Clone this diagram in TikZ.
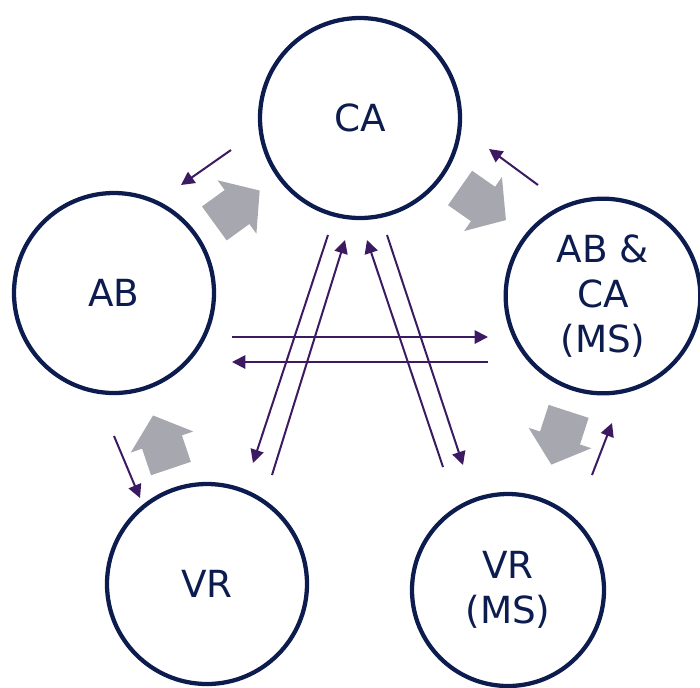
\documentclass[tikz,border=0pt]{standalone}
\usepackage{fontspec}
\setmainfont{DejaVu Sans}
\usetikzlibrary{arrows.meta}
\definecolor{navy}{HTML}{0D1C4F}
\definecolor{purp}{HTML}{3C1A62}
\definecolor{blockgray}{HTML}{A7A7AF}
\begin{document}
\begin{tikzpicture}[x=0.75pt,y=-0.75pt,
  circ/.style={circle,draw=navy,line width=3.2pt,minimum size=150pt,inner sep=0pt,
    text=navy,font=\fontsize{28}{33.5}\selectfont,align=center},
  link/.style={draw=purp,line width=1.5pt,-{Triangle[length=10pt,width=10pt]}},
  blockarrow/.pic={\fill[blockgray] (-28,-21) -- (0,-21) -- (0,-33) -- (28,0) -- (0,33) -- (0,21) -- (-28,21) -- cycle;}]
\useasboundingbox (0,0) rectangle (700,687);
% circles
\node[circ] (ca) at (360,118) {CA};
\node[circ] (ab) at (114,293) {AB};
\node[circ,minimum size=146pt] (abca) at (603,296) {AB \&\\CA\\(MS)};
\node[circ] (vr) at (207,584) {VR};
\node[circ,minimum size=144pt] (vrms) at (508,590) {VR\\(MS)};
% block arrows
\pic[rotate=36] at (237,207) {blockarrow};
\pic[rotate=-35] at (483,204) {blockarrow};
\pic[rotate=108.6] at (162,442) {blockarrow};
\pic[rotate=252] at (560,438) {blockarrow};
% end points
\coordinate (l1a) at (328,235); \coordinate (l1b) at (253,463);
\coordinate (l2a) at (272,475); \coordinate (l2b) at (345,240);
\coordinate (l3a) at (443,467); \coordinate (l3b) at (367,240);
\coordinate (l4a) at (387,235); \coordinate (l4b) at (463,465);
\coordinate (h1a) at (232,337); \coordinate (h1b) at (488,337);
\coordinate (h2a) at (488,362); \coordinate (h2b) at (232,362);
\coordinate (s1a) at (231,150); \coordinate (s1b) at (181,185);
\coordinate (s2a) at (538,185); \coordinate (s2b) at (489,149);
\coordinate (s3a) at (114,436); \coordinate (s3b) at (140,498);
\coordinate (s4a) at (592,475); \coordinate (s4b) at (612,423);
\foreach \n in {l1,l2,l3,l4,h1,h2,s1,s2,s3,s4}
  \draw[link] (\n a) -- (\n b);
\end{tikzpicture}
\end{document}
